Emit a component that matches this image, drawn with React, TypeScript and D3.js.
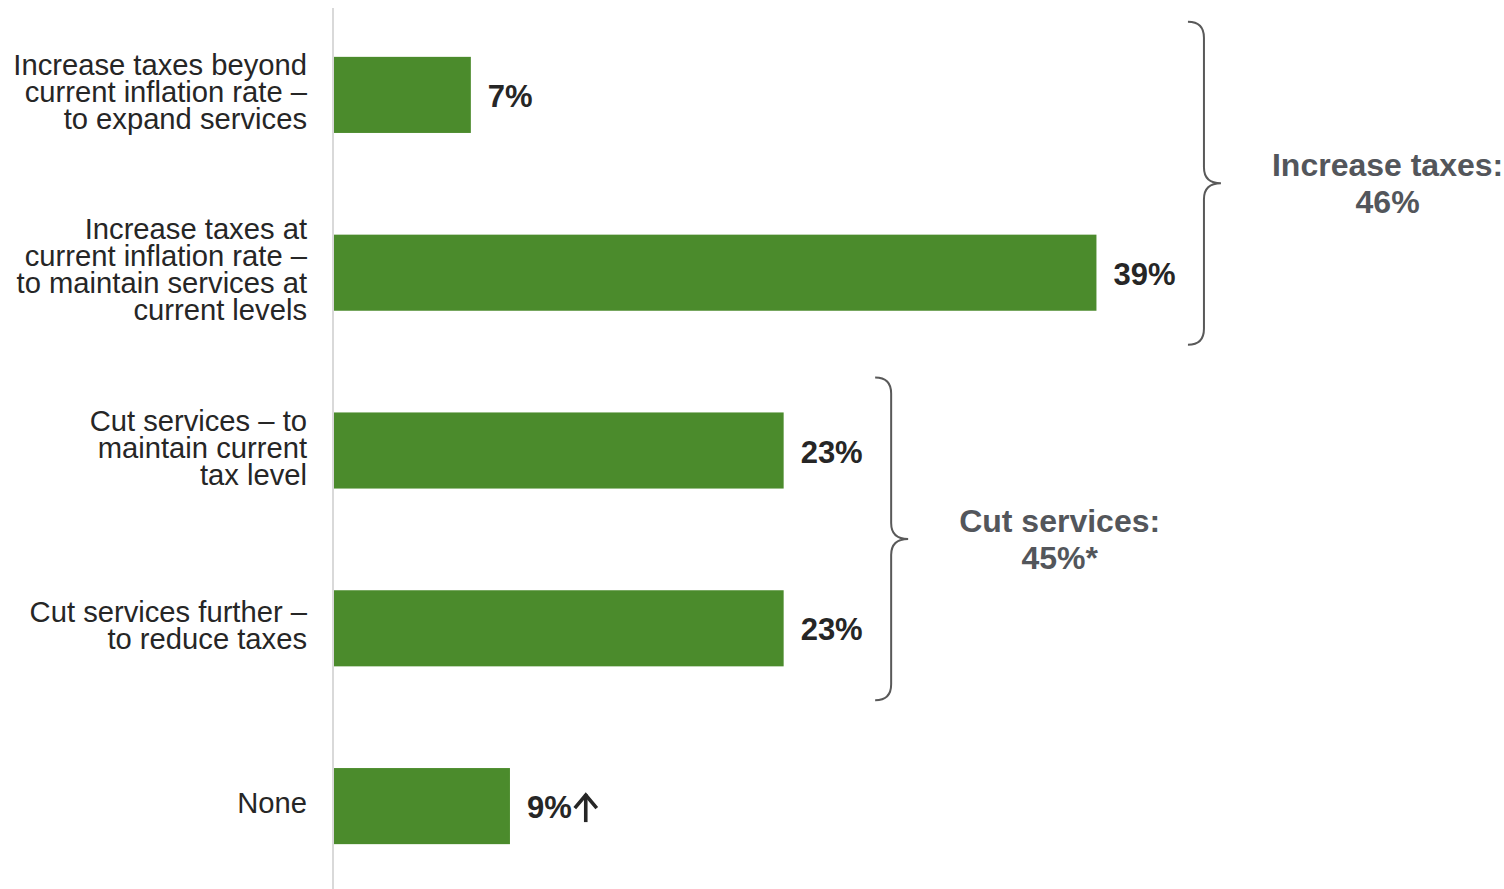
import React from 'react';
import * as d3 from 'd3';

const categories: string[][] = [
  ['Increase taxes beyond', 'current inflation rate –', 'to expand services'],
  ['Increase taxes at', 'current inflation rate –', 'to maintain services at', 'current levels'],
  ['Cut services – to', 'maintain current', 'tax level'],
  ['Cut services further –', 'to reduce taxes'],
  ['None'],
];
const values: number[] = [7, 39, 23, 23, 9];
const valueLabels: string[] = ['7%', '39%', '23%', '23%', '9%'];
const arrowFlags: boolean[] = [false, false, false, false, true];
const groupMembers: number[][] = [[0, 1], [2, 3]];
const groupLines: string[][] = [['Increase taxes:', '46%'], ['Cut services:', '45%*']];

const W = 1504;
const H = 889;
const FONT = '"Liberation Sans", Arial, sans-serif';
const GREEN = '#4b8b2c';
const DARK = '#262626';
const GRAY = '#53565b';

function measure(text: string, font: string): number {
  const c = document.createElement('canvas').getContext('2d');
  if (!c) return text.length * 15;
  c.font = font;
  return c.measureText(text).width;
}

export default function App() {
  const x = d3.scaleLinear().domain([0, 40]).range([334, 334 + 782]);
  const y = d3
    .scaleBand<number>()
    .domain(d3.range(values.length))
    .range([6, 6 + 5 * 177.8])
    .paddingInner(0.572)
    .paddingOuter(0.286);
  const bw = y.bandwidth();

  const labelSize = 29.2;
  const labelLH = 27;
  const valueSize = 31;
  const groupSize = 32;

  return (
    <svg
      width={W}
      height={H}
      style={{ position: 'absolute', left: 0, top: 0, background: '#fff' }}
      fontFamily={FONT}
    >
      <line x1={333} x2={333} y1={8} y2={H} stroke="#d9d9d9" strokeWidth={2} />
      {values.map((v, i) => {
        const y0 = y(i) as number;
        const cy = y0 + bw / 2;
        const lines = categories[i];
        const n = lines.length;
        const vx = x(v) + 17;
        const vw = measure(valueLabels[i], `bold ${valueSize}px ${FONT}`);
        return (
          <g key={i}>
            <rect x={x(0)} y={y0} width={x(v) - x(0)} height={bw} fill={GREEN} />
            <text textAnchor="end" fontSize={labelSize} fill={DARK}>
              {lines.map((l, j) => (
                <tspan key={j} x={307} y={cy + (j - (n - 1) / 2) * labelLH + 7}>
                  {l}
                </tspan>
              ))}
            </text>
            <text x={vx} y={cy + 12} fontSize={valueSize} fontWeight="bold" fill={DARK}>
              {valueLabels[i]}
            </text>
            {arrowFlags[i] && (
              <g
                stroke={DARK}
                strokeWidth={3.6}
                fill="none"
                strokeLinecap="butt"
                strokeLinejoin="miter"
                transform={`translate(${vx + vw + 1},${cy})`}
              >
                <line x1={13} x2={13} y1={-12} y2={16} />
                <polyline points="2,2 13,-11 24,2" />
              </g>
            )}
          </g>
        );
      })}
      {groupMembers.map((m, gi) => {
        const top = (y(m[0]) as number) - 35;
        const bot = (y(m[m.length - 1]) as number) + bw + 34;
        const mid = (top + bot) / 2;
        const maxV = d3.max(m, (k) => values[k]) as number;
        const x0 = x(maxV) + 91.5;
        const r = 16;
        const xv = x0 + 16;
        const xp = x0 + 33;
        const path = `M${x0},${top} Q${xv},${top} ${xv},${top + r} L${xv},${mid - r} Q${xv},${mid} ${xp},${mid} Q${xv},${mid} ${xv},${mid + r} L${xv},${bot - r} Q${xv},${bot} ${x0},${bot}`;
        const lines = groupLines[gi];
        const widths = lines.map((l) => measure(l, `bold ${groupSize}px ${FONT}`));
        const cx = xp + 51 + (d3.max(widths) as number) / 2;
        return (
          <g key={gi}>
            <path d={path} fill="none" stroke="#595959" strokeWidth={2} />
            <text textAnchor="middle" fontSize={groupSize} fontWeight="bold" fill={GRAY}>
              {lines.map((l, j) => (
                <tspan key={j} x={cx} y={mid - 7 + j * 37}>
                  {l}
                </tspan>
              ))}
            </text>
          </g>
        );
      })}
    </svg>
  );
}
